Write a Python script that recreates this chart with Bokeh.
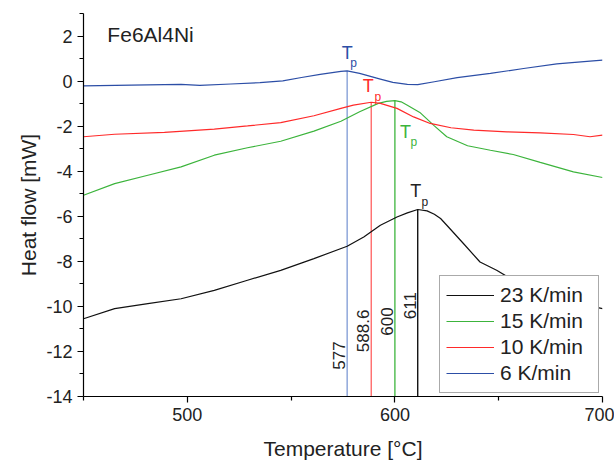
import numpy as np
from bokeh.plotting import figure
from bokeh.models import (Range1d, FixedTicker, Legend, LegendItem, Label,
                          ColumnDataSource, PrintfTickFormatter)
from bokeh.core.properties import value
from bokeh.embed import file_html
from bokeh.resources import INLINE

# ---------------- data ----------------
t_6 = [450, 473, 497, 506, 521, 535, 546, 555, 564, 574, 577, 583, 593, 599,
       606, 611, 619, 630, 646, 662, 678, 694, 700]
hf_6 = [-0.21, -0.18, -0.15, -0.19, -0.13, -0.07, 0.01, 0.16, 0.30, 0.43, 0.45,
        0.34, 0.09, -0.06, -0.15, -0.16, -0.03, 0.15, 0.34, 0.56, 0.76, 0.89, 0.93]

t_10 = [450, 465, 489, 513, 529, 545, 561, 574, 580, 588.6, 593, 601, 609, 617,
        627, 638, 654, 670, 686, 694, 700]
hf_10 = [-2.47, -2.36, -2.28, -2.13, -1.99, -1.84, -1.54, -1.21, -1.07, -0.94,
         -0.99, -1.21, -1.59, -1.88, -2.07, -2.18, -2.25, -2.30, -2.37, -2.47, -2.40]

t_15 = [450, 465, 481, 497, 513, 529, 545, 561, 574, 583, 592, 596, 600, 603,
        606, 612, 619, 625, 635, 646, 657, 670, 686, 700]
hf_15 = [-5.07, -4.55, -4.18, -3.81, -3.29, -2.96, -2.67, -2.22, -1.78, -1.36,
         -0.99, -0.90, -0.87, -0.92, -1.07, -1.39, -1.99, -2.47, -2.87, -3.07,
         -3.26, -3.61, -4.03, -4.28]

t_23 = [450, 465, 481, 497, 513, 529, 545, 561, 577, 585, 593, 601, 606, 611,
        615.5, 619, 622, 625, 633, 641, 649, 660, 675, 690, 700]
hf_23 = [-10.55, -10.10, -9.88, -9.66, -9.29, -8.84, -8.40, -7.88, -7.33, -6.92,
         -6.40, -6.03, -5.85, -5.70, -5.76, -5.91, -6.10, -6.40, -7.21, -8.03,
         -8.40, -9.00, -9.50, -9.90, -10.10]

series_names = ["23 K/min", "15 K/min", "10 K/min", "6 K/min"]

peak_t = [577, 588.6, 600, 611]
peak_hf = [0.44, -0.94, -0.87, -5.70]
peak_labels = ["577", "588.6", "600", "611"]

x_ticks = [500, 600, 700]
x_minor = [450, 550, 650]
y_ticks = [-14, -12, -10, -8, -6, -4, -2, 0, 2]
y_minor = [-13, -11, -9, -7, -5, -3, -1, 1, 3]

x_title = "Temperature [°C]"
y_title = "Heat flow [mW]"
sample = "Fe6Al4Ni"

# ---------------- styles ----------------
FONT = "Liberation Sans"
TXT = "#222222"
c_black, c_green, c_red, c_blue = "#111111", "#3cb43c", "#ff2a2a", "#2c4ea6"
vline_colors = ["#7f9ad5", "#ff6060", "#3cb43c", "#000000"]
tp_colors = ["#2c4ea6", "#ff2a2a", "#3cb43c", "#222222"]

p = figure(width=614, height=462, output_backend="svg", toolbar_location=None,
           x_range=Range1d(450, 700), y_range=Range1d(-14, 3),
           min_border_left=83, min_border_right=12, min_border_top=13,
           min_border_bottom=66)
p.outline_line_color = None
p.xgrid.visible = False
p.ygrid.visible = False
p.background_fill_color = "white"
p.border_fill_color = "white"

for ax in (p.xaxis[0], p.yaxis[0]):
    ax.axis_line_color = "black"
    ax.axis_line_width = 1.2
    ax.major_tick_line_color = "black"
    ax.minor_tick_line_color = "black"
    ax.major_tick_line_width = 1.2
    ax.minor_tick_line_width = 1.2
    ax.major_tick_out = 6
    ax.major_tick_in = 0
    ax.minor_tick_out = 4
    ax.minor_tick_in = 0
    ax.major_label_text_font = FONT
    ax.major_label_text_font_size = "18px"
    ax.major_label_text_color = TXT
    ax.major_label_standoff = 5
    ax.formatter = PrintfTickFormatter(format="%d")
    ax.axis_label_text_font = FONT
    ax.axis_label_text_font_size = "21px"
    ax.axis_label_text_font_style = "normal"
    ax.axis_label_text_color = TXT

p.xaxis.ticker = FixedTicker(ticks=x_ticks, minor_ticks=x_minor)
p.yaxis.ticker = FixedTicker(ticks=y_ticks, minor_ticks=y_minor)
p.xaxis.axis_label = x_title
p.yaxis.axis_label = y_title
p.xaxis.axis_label_standoff = 13
p.xaxis.axis_label_text_line_height = 0.7
p.yaxis.axis_label_standoff = 3

# vertical peak lines
vsrc = ColumnDataSource(dict(x=peak_t, y0=[-14] * 4, y1=peak_hf, c=vline_colors))
p.segment(x0="x", y0="y0", x1="x", y1="y1", color="c", line_width=1.3, source=vsrc)

# curves
r23 = p.line(t_23, hf_23, line_color=c_black, line_width=1.2)
r15 = p.line(t_15, hf_15, line_color=c_green, line_width=1.2)
r10 = p.line(t_10, hf_10, line_color=c_red, line_width=1.2)
r6 = p.line(t_6, hf_6, line_color=c_blue, line_width=1.2)

# T_p labels
tsrc = ColumnDataSource(dict(x=peak_t, y=peak_hf, c=tp_colors,
                             xo=[0, -3, 10.6, -2], yo=[-18.5, -16, 31.4, -18.3],
                             pxo=[6.5, 6.5, 19, 7], pyo=[-8, -5, 41.4, -7.3],
                             t=["T"] * 4, s=["p"] * 4))
p.text(x="x", y="y", text="t", x_offset="xo", y_offset="yo", text_color="c",
       text_font=value(FONT), text_font_size="18px", text_align="center",
       text_baseline="middle", source=tsrc)
p.text(x="x", y="y", text="s", x_offset="pxo", y_offset="pyo", text_color="c",
       text_font=value(FONT), text_font_size="12px", text_align="center",
       text_baseline="middle", source=tsrc)

# rotated value labels
label_y = [-12.18, -11.09, -10.67, -9.97]
nsrc = ColumnDataSource(dict(x=peak_t, y=label_y, t=peak_labels))
p.text(x="x", y="y", text="t", angle=np.pi / 2, x_offset=-8,
       text_color=TXT, text_font=value(FONT), text_font_size="17px",
       text_align="center", text_baseline="middle", source=nsrc)

# sample label
p.add_layout(Label(x=461.5, y=2.05, text=sample, text_font=FONT,
                   text_font_size="21px", text_color=TXT,
                   text_baseline="middle", text_align="left"))

legend = Legend(items=[LegendItem(label=series_names[0], renderers=[r23]),
                       LegendItem(label=series_names[1], renderers=[r15]),
                       LegendItem(label=series_names[2], renderers=[r10]),
                       LegendItem(label=series_names[3], renderers=[r6])],
                location="bottom_right")
legend.margin = 3
legend.padding = 6
legend.spacing = 0
legend.glyph_width = 48
legend.glyph_height = 26
legend.label_height = 26
legend.label_width = 92
legend.label_standoff = 6
legend.label_text_font = FONT
legend.label_text_font_size = "21px"
legend.label_text_color = TXT
legend.border_line_color = "#555555"
legend.border_line_width = 1.2
legend.background_fill_color = "white"
legend.background_fill_alpha = 1.0
p.add_layout(legend, "center")

open("out.html", "w").write(file_html(p, INLINE))
